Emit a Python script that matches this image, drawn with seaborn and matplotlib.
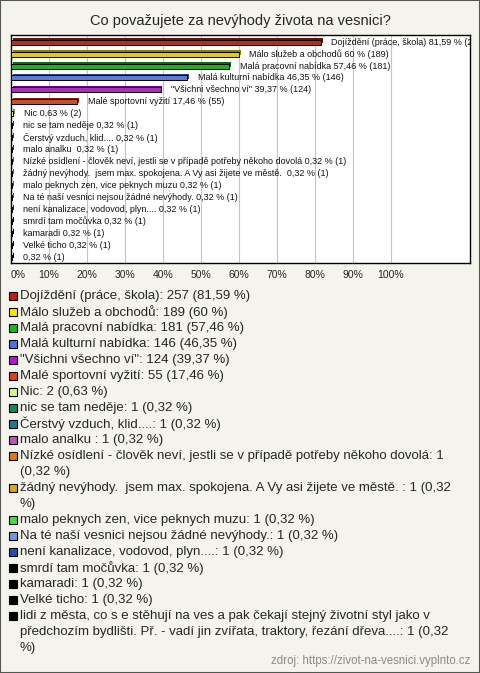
""" Co považujete za nevýhody života na vesnici? - horizontal bar chart with legend. """
import numpy as np
import pandas as pd
import seaborn as sns
import matplotlib
matplotlib.use("Agg")
import matplotlib.pyplot as plt
import matplotlib.patheffects as pe
from matplotlib.colors import to_rgb
from matplotlib.patches import Rectangle

# answers as shown in the legend
answers = ["Dojíždění (práce, škola)", "Málo služeb a obchodů", "Malá pracovní nabídka",
           "Malá kulturní nabídka", "\"Všichni všechno ví\"", "Malé sportovní vyžití",
           "Nic", "nic se tam neděje", "Čerstvý vzduch, klid....", "malo analku ",
           "Nízké osídlení - člověk neví, jestli se v případě potřeby někoho dovolá",
           "žádný nevýhody.  jsem max. spokojena. A Vy asi žijete ve městě. ",
           "malo peknych zen, vice peknych muzu",
           "Na té naší vesnici nejsou žádné nevýhody.",
           "není kanalizace, vodovod, plyn....", "smrdí tam močůvka", "kamaradi",
           "Velké ticho",
           "lidi z města, co s e stěhují na ves a pak čekají stejný životní styl jako v "
           "předchozím bydlišti. Př. - vadí jin zvířata, traktory, řezání dřeva...."]
# answers as written next to the bars
bar_names = ["Dojíždění (práce, škola)", "Málo služeb a obchodů", "Malá pracovní nabídka",
             "Malá kulturní nabídka", "\"Všichni všechno ví\"", "Malé sportovní vyžití",
             "Nic", "nic se tam neděje", "Čerstvý vzduch, klid....", "malo analku ",
             "Nízké osídlení - člověk neví, jestli se v případě potřeby někoho dovolá",
             "žádný nevýhody.  jsem max. spokojena. A Vy asi žijete ve městě. ",
             "malo peknych zen, vice peknych muzu",
             "Na té naší vesnici nejsou žádné nevýhody.",
             "není kanalizace, vodovod, plyn....", "smrdí tam močůvka", "kamaradi",
             "Velké ticho", ""]
counts = [257, 189, 181, 146, 124, 55, 2, 1, 1, 1, 1, 1, 1, 1, 1, 1, 1, 1, 1]
percents = ["81,59", "60", "57,46", "46,35", "39,37", "17,46", "0,63", "0,32", "0,32",
            "0,32", "0,32", "0,32", "0,32", "0,32", "0,32", "0,32", "0,32", "0,32", "0,32"]
colors = ["#C41E0C", "#FFE200", "#12BE12", "#4A72E6", "#B814D8", "#E2400E", "#C8FF8C",
          "#14885A", "#1E7896", "#B858BC", "#E27A10", "#DCA812", "#46DC46", "#6A9ADE",
          "#2252A8", "#000000", "#000000", "#000000", "#000000"]
xticks = [0, 10, 20, 30, 40, 50, 60, 70, 80, 90, 100]

title = "Co považujete za nevýhody života na vesnici?"
source = "zdroj: https://zivot-na-vesnici.vyplnto.cz"

BG = "#F4F3EC"
W, H = 480, 673

sns.set_style("white")
plt.rcParams["font.family"] = ["Liberation Sans", "DejaVu Sans"]

df = pd.DataFrame({"answer": answers,
                   "pct": [float(p.replace(",", ".")) for p in percents]})

fig = plt.figure(figsize=(W / 100, H / 100), dpi=100, facecolor=BG)
ax = fig.add_axes([11 / W, 1 - 263 / H, 459 / W, 228 / H])
ax.set_facecolor("white")

sns.barplot(data=df, x="pct", y="answer", hue="answer", palette=colors,
            legend=False, orient="h", width=0.42, edgecolor="black",
            linewidth=0.7, ax=ax, zorder=3)

# pseudo 3d look of the bars
for patch, c in zip(ax.patches, colors):
    dark = tuple(v * 0.55 for v in to_rgb(c))
    patch.set_path_effects([pe.SimplePatchShadow(offset=(1.3, 1.3), shadow_rgbFace=dark,
                                                 alpha=1), pe.Normal()])

for i, patch in enumerate(ax.patches):
    label = f"{bar_names[i]} {percents[i]} % ({counts[i]})".strip()
    ax.annotate(label, (patch.get_width(), patch.get_y() + patch.get_height() / 2),
                xytext=(7.5, 0), textcoords="offset points", va="center", ha="left",
                fontsize=6.5, color="#111111", clip_on=True, annotation_clip=False)

ax.set_xlim(0, 120.8)
ax.set_ylim(18.5, -0.6)
ax.set_xticks(xticks)
ax.set_xticklabels([f"{t}%" for t in xticks], fontsize=7.5)
ax.get_xticklabels()[0].set_horizontalalignment("left")
ax.tick_params(axis="x", length=0, pad=5)
ax.set_yticks([])
ax.set_xlabel("")
ax.set_ylabel("")
ax.xaxis.grid(True, color="#C4C4C4", linewidth=0.8, zorder=0)
ax.set_axisbelow(True)
for s in ax.spines.values():
    s.set_color("black")
    s.set_linewidth(1)

fig.text(240 / W, 1 - 21 / H, title, ha="center", va="center", fontsize=10.5)

# legend drawn by hand so long entries can wrap
renderer = fig.canvas.get_renderer()
leg_fs = 9.5
max_px = 440


def text_px(s):
    t = fig.text(0, 0, s, fontsize=leg_fs)
    w = t.get_window_extent(renderer).width
    t.remove()
    return w


def wrap(s):
    lines, cur = [], None
    for w in s.split(" "):
        cand = w if cur is None else cur + " " + w
        if cur is not None and text_px(cand) > max_px:
            lines.append(cur)
            cur = w
        else:
            cur = cand
    lines.append(cur)
    return lines


y = 296
for i, name in enumerate(answers):
    entry = f"{name}: {counts[i]} ({percents[i]} %)"
    fig.patches.append(Rectangle((9 / W, 1 - (y + 4) / H), 8 / W, 8 / H,
                                 transform=fig.transFigure, facecolor=colors[i],
                                 edgecolor="black", linewidth=0.8))
    for line in wrap(entry):
        fig.text(20 / W, 1 - y / H, line, ha="left", va="center", fontsize=leg_fs)
        y += 16

fig.text(470 / W, 1 - 661 / H, source, ha="right", va="center", fontsize=8.3,
         color="#8A8A8A")

fig.patches.append(Rectangle((0, 0), 1, 1, transform=fig.transFigure, fill=False,
                             edgecolor="#555555", linewidth=1.5))

fig.savefig("out.png", dpi=100, facecolor=BG)
